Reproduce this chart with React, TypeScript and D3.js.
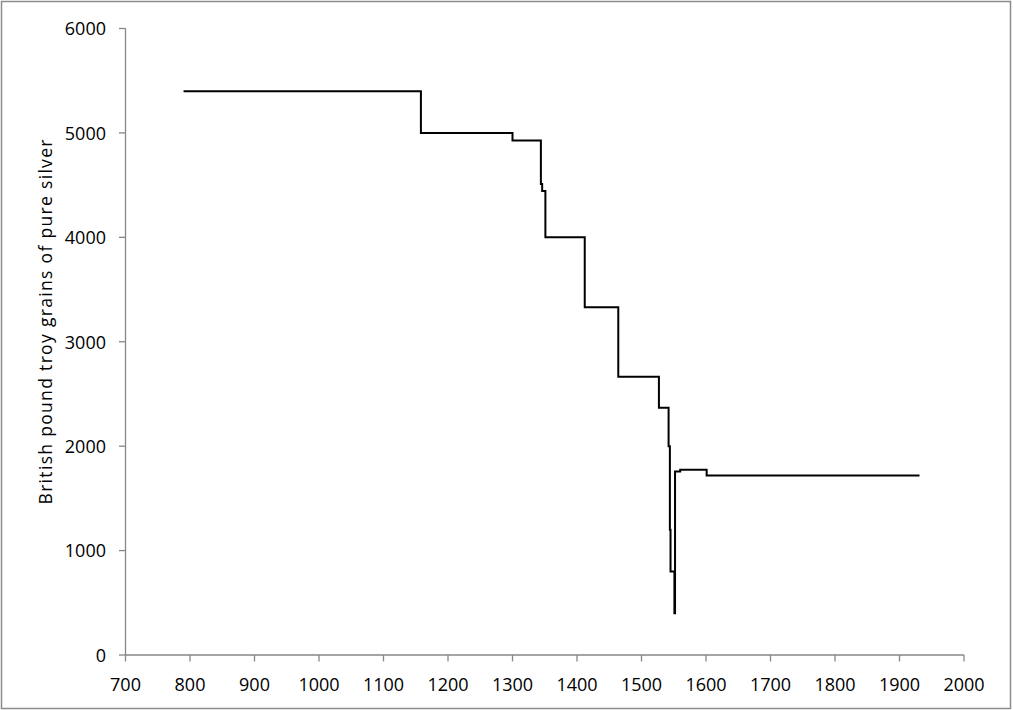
import React from "react";
import * as d3 from "d3";

const years = [790, 1158, 1300, 1344, 1346, 1351, 1412, 1464, 1527, 1542, 1544, 1545, 1551, 1552, 1560, 1601, 1931];
const grains = [5400, 5000, 4928, 4510, 4444, 4000, 3330, 2664, 2368, 2000, 1200, 800, 400, 1758, 1774, 1718, 1718];
const xTicks = [700, 800, 900, 1000, 1100, 1200, 1300, 1400, 1500, 1600, 1700, 1800, 1900, 2000];
const yTicks = [0, 1000, 2000, 3000, 4000, 5000, 6000];
const yTitle = "British pound troy grains of pure silver";

const W = 1013;
const H = 710;
const FONT = "'Open Sans', 'Noto Sans', sans-serif";
const AXIS = "#878787";

export default function App() {
  const x = d3.scaleLinear().domain([700, 2000]).range([125.5, 964]);
  const y = d3.scaleLinear().domain([0, 6000]).range([655, 28.5]);
  const pts: [number, number][] = years.map((yr, i) => [yr, grains[i]]);
  const line = d3
    .line<[number, number]>()
    .x((d) => x(d[0]))
    .y((d) => y(d[1]))
    .curve(d3.curveStepAfter);

  return (
    <svg
      width={W}
      height={H}
      style={{ position: "absolute", left: 0, top: 0, background: "#fff" }}
    >
      <rect x={1.5} y={1.5} width={1009} height={707} fill="#fff" stroke="#8c8c8c" strokeWidth={1.5} />
      {/* y axis */}
      <line x1={x(700)} x2={x(700)} y1={y(6000)} y2={y(0)} stroke={AXIS} strokeWidth={1.3} />
      {yTicks.map((t) => (
        <g key={"y" + t}>
          <line x1={x(700) - 6.5} x2={x(700)} y1={y(t)} y2={y(t)} stroke={AXIS} strokeWidth={1.3} />
          <text
            x={106}
            y={y(t)}
            dy="0.38em"
            textAnchor="end"
            fontFamily={FONT}
            fontSize={18}
            fill="#000"
          >
            {t}
          </text>
        </g>
      ))}
      {/* x axis */}
      <line x1={x(700)} x2={x(2000)} y1={y(0)} y2={y(0)} stroke={AXIS} strokeWidth={1.3} />
      {xTicks.map((t) => (
        <g key={"x" + t}>
          <line x1={x(t)} x2={x(t)} y1={y(0)} y2={y(0) + 6.5} stroke={AXIS} strokeWidth={1.3} />
          <text
            x={x(t)}
            y={690.5}
            textAnchor="middle"
            fontFamily={FONT}
            fontSize={18}
            fill="#000"
          >
            {t}
          </text>
        </g>
      ))}
      <text
        transform={`translate(52,322) rotate(-90)`}
        textAnchor="middle"
        fontFamily={FONT}
        fontSize={17.5}
        textLength={365}
        lengthAdjust="spacing"
        fill="#000"
      >
        {yTitle}
      </text>
      <path d={line(pts) || ""} fill="none" stroke="#000" strokeWidth={2} strokeLinejoin="miter" />
    </svg>
  );
}
